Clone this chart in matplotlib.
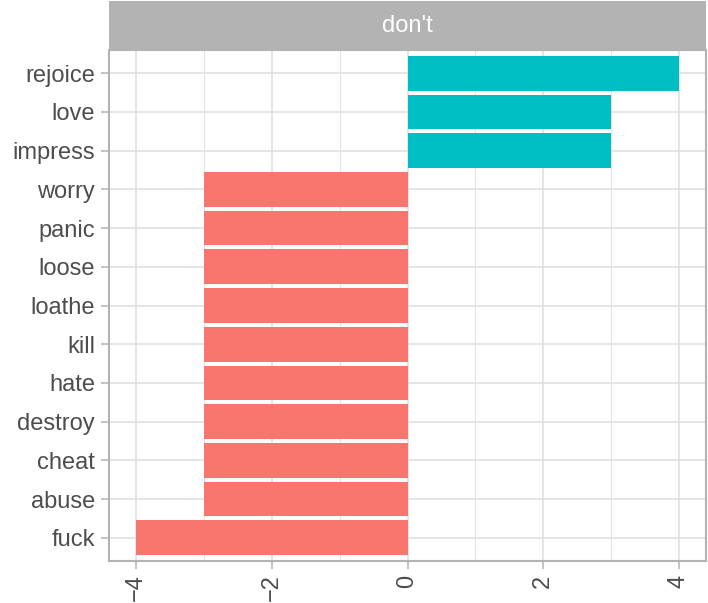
import matplotlib
matplotlib.use("Agg")
import matplotlib.pyplot as plt
from matplotlib.patches import Rectangle

words = ["fuck", "abuse", "cheat", "destroy", "hate", "kill", "loathe",
         "loose", "panic", "worry", "impress", "love", "rejoice"]
values = [-4, -3, -3, -3, -3, -3, -3, -3, -3, -3, 3, 3, 4]
facet_title = "don't"
xticks = [-4, -2, 0, 2, 4]
xtick_labels = ["\u22124", "\u22122", "0", "2", "4"]

plt.rcParams['font.family'] = ['Liberation Sans', 'DejaVu Sans']

W, H = 708, 603
fig = plt.figure(figsize=(W / 100, H / 100), dpi=100)
left, right, top, bottom = 109, 706, 50, 561
ax = fig.add_axes([left / W, 1 - bottom / H, (right - left) / W, (bottom - top) / H])

colors = ["#00BFC4" if v > 0 else "#F8766D" for v in values]
ypos = list(range(1, len(words) + 1))
ax.barh(ypos, values, height=0.9, color=colors, zorder=3)

ax.set_xlim(-4.4, 4.4)
ax.set_ylim(0.4, len(words) + 0.6)
ax.set_xticks(xticks)
ax.set_xticklabels(xtick_labels, rotation=90)
ax.set_xticks([-3, -1, 1, 3], minor=True)
ax.set_yticks(ypos)
ax.set_yticklabels(words)

ax.grid(which='major', color='#DEDEDE', linewidth=1.1, zorder=0)
ax.grid(which='minor', axis='x', color='#E3E3E3', linewidth=0.8, zorder=0)
ax.set_axisbelow(True)
for s in ax.spines.values():
    s.set_color('#B3B3B3')
    s.set_linewidth(1.5)
ax.tick_params(which='major', colors='#B3B3B3', length=5.8, width=1.1, labelcolor='#4D4D4D',
               labelsize=17)
ax.tick_params(axis='y', pad=4.2)
ax.tick_params(axis='x', pad=4.0)
ax.tick_params(which='minor', length=0)

# strip
sax = fig.add_axes([left / W, 1 - top / H, (right - left) / W, (top - 1) / H])
sax.set_xlim(0, 1); sax.set_ylim(0, 1)
sax.add_patch(Rectangle((0, 0), 1, 1, color='#B3B3B3'))
sax.axis('off')
sax.text(0.5, 0.5, facet_title, color='white', ha='center', va='center', fontsize=17)

fig.savefig("out.png", dpi=100)
